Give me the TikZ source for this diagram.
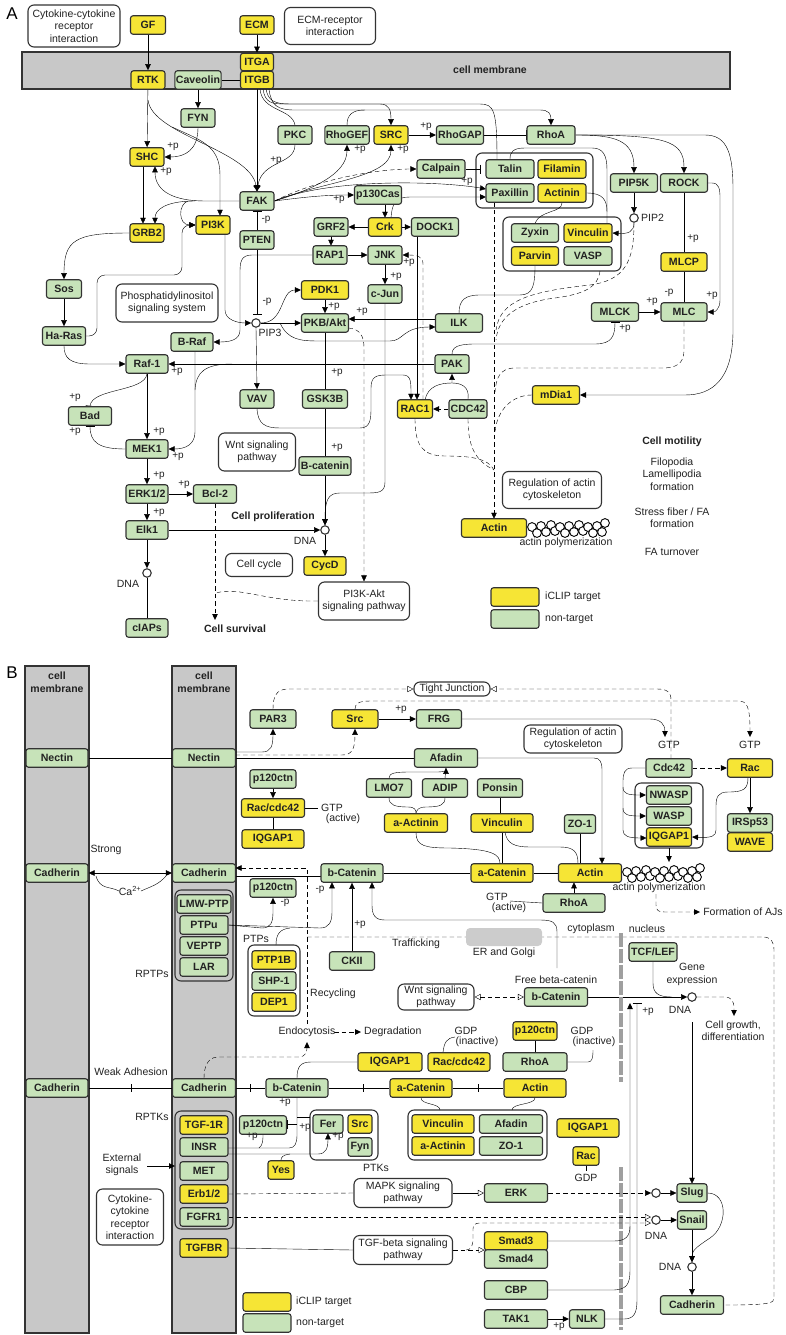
\documentclass[tikz,border=0pt]{standalone}
\usepackage{fontspec}
\setmainfont{Liberation Sans}
\usetikzlibrary{arrows.meta}
\pgfdeclarelayer{bg}
\pgfdeclarelayer{conn}
\pgfsetlayers{bg,conn,main}
\definecolor{yel}{HTML}{F6E535}
\definecolor{grn}{HTML}{C7E3B9}
\definecolor{mem}{HTML}{C8C8C8}
\definecolor{bord}{HTML}{333333}
\definecolor{txt}{HTML}{222222}
\newcommand\gn[5]{\node[#1,minimum width=#2pt] (#3) at (#4) {#5};}
\begin{document}
\begin{tikzpicture}[x=1pt,y=-1pt,line width=1.5pt,
  gene/.style={rounded corners=2.5pt, draw=bord, line width=1.1pt, minimum height=18.5pt, inner sep=1pt, font=\bfseries\fontsize{10.6}{12}\selectfont, text=txt},
  ye/.style={gene, fill=yel},
  gr/.style={gene, fill=grn},
  pw/.style={rounded corners=6pt, draw=bord, line width=1.1pt, fill=white, align=center, inner sep=1pt, font=\fontsize{10.5}{12.5}\selectfont, text=txt},
  grp/.style={rounded corners=6pt, draw=bord, line width=1.1pt},
  lb/.style={font=\fontsize{10.5}{12.5}\selectfont, inner sep=0pt, align=center, text=txt},
  pl/.style={font=\fontsize{10}{11}\selectfont, inner sep=0pt, text=txt},
  bl/.style={font=\bfseries\fontsize{10.5}{12.5}\selectfont, inner sep=0pt, align=center, text=txt},
  cir/.style={circle, draw=bord, fill=white, line width=1.1pt, minimum size=8.5pt, inner sep=0pt},
  ar/.style={-{Triangle[length=6pt,width=5.5pt]}},
  inh/.style={-{Bar[width=9pt]}},
  oar/.style={-{Triangle[open,length=6pt,width=6pt]}},
  dsh/.style={dash pattern=on 4.5pt off 3pt}
]
\useasboundingbox (0,0) rectangle (785,1335);

% ================= background =================
\begin{pgfonlayer}{bg}
\filldraw[fill=mem,draw=bord,line width=1.2pt] (22,52) rectangle (730,89);
\draw[grp] (476,153) rectangle (593,208);
\draw[grp] (503,217) rectangle (621,271);
\filldraw[fill=mem,draw=bord,line width=1.2pt] (25,666) rectangle (89,1333);
\filldraw[fill=mem,draw=bord,line width=1.2pt] (172,666) rectangle (236,1333);
\draw[grp] (175,890) rectangle (233,981);
\draw[grp] (248,945) rectangle (300,1016);
\draw[grp] (635,783) rectangle (703,848);
\draw[grp] (408,1110) rectangle (547,1160);
\draw[grp] (175,1111) rectangle (233,1229);
\draw[grp] (310,1110) rectangle (378,1160);
\foreach \i/\dx/\dy in {0/0/0,1/5/6,2/9/-1,3/14/5,4/19/-2,5/23/4,6/28/0,7/33/6,8/37/-1,9/42/5,10/47/-2,11/51/4,12/56/0,13/61/6,14/65/-1,15/70/5,16/73/-4} {
  \draw[fill=white,line width=0.9pt] ({532+\dx},{527+\dy}) circle (4.4pt);
  \draw[fill=white,line width=0.9pt] ({627+\dx},{872+\dy}) circle (4.4pt);
}
\end{pgfonlayer}

% ================= panel A nodes =================
\node[font=\fontsize{17}{17}\selectfont, inner sep=0pt] (lblA) at (12,14) {A};
\node[pw, minimum width=92pt, minimum height=42pt] (cytoA) at (74,26) {Cytokine-cytokine\\receptor\\interaction};
\node[pw, minimum width=91pt, minimum height=37pt] (ecmA) at (330,26) {ECM-receptor\\interaction};
\node[bl] (memA) at (490,70) {cell membrane};
\gn{ye}{35}{GF}{148,25}{GF}
\gn{ye}{34}{ECM}{257,25}{ECM}
\node[ye,minimum width=33pt,minimum height=17.5pt] (ITGA) at (257,62) {ITGA};
\node[ye,minimum width=33pt,minimum height=17.5pt] (ITGB) at (257,80) {ITGB};
\gn{ye}{34}{RTK}{148,80}{RTK}
\gn{gr}{46}{Cav}{198,80}{Caveolin}
\gn{gr}{34}{FYN}{198,118}{FYN}
\gn{gr}{34}{PKC}{295,135}{PKC}
\gn{gr}{44}{RhoGEF}{347,135}{RhoGEF}
\gn{ye}{34}{SRC}{391,135}{SRC}
\gn{gr}{47}{RhoGAP}{460,135}{RhoGAP}
\gn{gr}{48}{RhoA}{551,135}{RhoA}
\gn{ye}{34}{SHC}{147,157}{SHC}
\gn{gr}{48}{Calpain}{441,169}{Calpain}
\gn{gr}{48}{Talin}{510,169}{Talin}
\gn{ye}{48}{Filamin}{562,169}{Filamin}
\gn{gr}{34}{FAK}{257,201}{FAK}
\gn{gr}{47}{p130Cas}{378,195}{p130Cas}
\gn{gr}{48}{Paxillin}{510,193}{Paxillin}
\gn{ye}{48}{Actinin}{562,193}{Actinin}
\gn{gr}{47}{PIP5K}{634,183}{PIP5K}
\gn{gr}{47}{ROCK}{684,183}{ROCK}
\gn{ye}{34}{GRB2}{147,233}{GRB2}
\gn{ye}{34}{PI3K}{213,225}{PI3K}
\gn{gr}{34}{PTEN}{257,240}{PTEN}
\gn{gr}{34}{GRF2}{331,227}{GRF2}
\gn{ye}{33}{Crk}{385,227}{Crk}
\gn{gr}{47}{DOCK1}{435,227}{DOCK1}
\gn{gr}{47}{Zyxin}{535,233}{Zyxin}
\gn{ye}{48}{Vinculin}{588,233}{Vinculin}
\gn{ye}{47}{Parvin}{535,256}{Parvin}
\gn{gr}{48}{VASP}{588,256}{VASP}
\gn{gr}{34}{RAP1}{330,255}{RAP1}
\gn{gr}{34}{JNK}{385,255}{JNK}
\gn{ye}{46}{MLCP}{684,262}{MLCP}
\gn{gr}{35}{Sos}{64,289}{Sos}
\gn{ye}{47}{PDK1}{325,290}{PDK1}
\gn{gr}{34}{cJun}{385,294}{c-Jun}
\gn{gr}{47}{MLCK}{615,312}{MLCK}
\gn{gr}{46}{MLC}{684,312}{MLC}
\gn{gr}{47}{PKB}{325,323}{PKB/Akt}
\gn{gr}{47}{ILK}{459,323}{ILK}
\gn{gr}{43}{HaRas}{64,336}{Ha-Ras}
\gn{gr}{42}{BRaf}{192,342}{B-Raf}
\gn{gr}{42}{Raf1}{147,364}{Raf-1}
\gn{gr}{34}{PAK}{452,364}{PAK}
\gn{ye}{47}{mDia1}{556,395}{mDia1}
\gn{gr}{34}{VAV}{257,399}{VAV}
\gn{gr}{45}{GSK3B}{325,399}{GSK3B}
\gn{ye}{35}{RAC1}{415,409}{RAC1}
\gn{gr}{38}{CDC42}{468,409}{CDC42}
\gn{gr}{43}{Bad}{90,416}{Bad}
\gn{gr}{42}{MEK1}{147,449}{MEK1}
\gn{gr}{52}{Bcat}{325,466}{B-catenin}
\gn{gr}{42}{ERK}{147,494}{ERK1/2}
\gn{gr}{43}{Bcl2}{215,494}{Bcl-2}
\gn{gr}{42}{Elk1}{147,530}{Elk1}
\gn{ye}{42}{CycD}{325,566}{CycD}
\gn{gr}{42}{cIAPs}{147,628}{cIAPs}
\gn{ye}{65}{ActA}{494,528}{Actin}
\node[cir] (PIP2) at (634,218) {};
\node[cir] (PIP3) at (256,323) {};
\node[cir] (DNA1) at (325,530) {};
\node[cir] (DNA2) at (147,573) {};
\node[pw, minimum width=102pt, minimum height=38pt] (phos) at (167,303) {Phosphatidylinositol\\signaling system};
\node[pw, minimum width=77pt, minimum height=38pt] (wntA) at (257,452) {Wnt signaling\\pathway};
\node[pw, minimum width=67pt, minimum height=23pt] (ccyc) at (259,565) {Cell cycle};
\node[pw, minimum width=91pt, minimum height=38pt] (pi3k) at (364,601) {PI3K-Akt\\signaling pathway};
\node[pw, minimum width=99pt, minimum height=37pt] (regA) at (552,490) {Regulation of actin\\cytoskeleton};
\node[lb, anchor=west] (tPIP2) at (641,218) {PIP2};
\node[lb] (tPIP3) at (270,333) {PIP3};
\node[lb] (tDNA1) at (305,541) {DNA};
\node[lb] (tDNA2) at (128,584) {DNA};
\node[bl] (tprol) at (273,517) {Cell proliferation};
\node[bl] (tsurv) at (235,629) {Cell survival};
\node[lb] (tpolA) at (566,543) {actin polymerization};
\node[bl] (tmot) at (672,442) {Cell motility};
\node[lb] (tfilo) at (672,474) {Filopodia\\Lamellipodia\\formation};
\node[lb] (tstr) at (672,517.5) {Stress fiber / FA\\formation};
\node[lb] (tfat) at (672,552) {FA turnover};
\gn{ye}{48}{legAy}{515,597}{}
\gn{gr}{48}{legAg}{515,619}{}
\node[lb, anchor=west] (tlegAy) at (545,597) {iCLIP target};
\node[lb, anchor=west] (tlegAg) at (545,619) {non-target};
\foreach \x/\y/\t [count=\k] in {173/147/+p, 166/172/+p, 276/161/+p, 360/150/+p, 403/150/+p, 339/200/+p, 467/182/+p, 426/127/+p, 409/263/+p, 396/277/+p, 334/307/+p, 362/312/+p, 266/220/-p, 267/302/-p, 693/239/+p, 669/293/-p, 652/302/+p, 712/296/+p, 625/329/+p, 177/372/+p, 75/398/+p, 75/432/+p, 159/432/+p, 178/457/+p, 159/476/+p, 184/485/+p, 159/513/+p, 337/373/+p, 337/448/+p}
  {\node[pl] (pa\k) at (\x,\y) {\t};}

% ================= panel A connectors =================
\begin{pgfonlayer}{conn}
\draw[ar] (GF) -- (RTK);
\draw[ar] (ECM) -- (ITGA);
\draw (Cav) -- (ITGB);
\draw[ar] (Cav) -- (FYN);
\draw[ar] (RTK) -- (SHC);
\draw[ar] (148,100) .. controls (152,135) and (250,150) .. (FAK.north);
\draw[ar] (172,127) .. controls (200,140) and (220,145) .. (220,175) -- (220,215.75);
\draw[ar] (ITGB) -- (FAK);
\draw (260,89) .. controls (262,112) and (292,108) .. (PKC.north);
\draw[ar] (PKC.south) .. controls (295,165) and (262,160) .. (FAK.north);
\draw[ar] (263,89) .. controls (265,103) and (272,104) .. (285,104) -- (380,104) .. controls (389,104) and (391,110) .. (SRC.north);
\draw (266,89) .. controls (268,101) and (275,104) .. (290,104) -- (480,104) .. controls (494,104) and (497,110) .. (497,159.75);
\draw[ar] (269,89) .. controls (271,106) and (278,110) .. (295,110) -- (540,110) .. controls (549,110) and (551,114) .. (RhoA.north);
\draw (RhoGEF.north) .. controls (347,115) and (352,110) .. (365,110);
\draw[ar] (FAK.east) .. controls (310,190) and (347,175) .. (RhoGEF.south);
\draw[ar] (FAK.east) .. controls (320,182) and (391,178) .. (SRC.south);
\draw[ar,dsh] (FAK.east) .. controls (320,178) and (380,169) .. (Calpain.west);
\draw[ar] (FAK.east) .. controls (330,178) and (440,181) .. (486,189);
\draw[ar] (FAK.east) .. controls (305,197) and (325,195) .. (p130Cas.west);
\draw[ar] (FAK.west) -- (205,201) .. controls (175,201) and (155,192) .. (155,166.25);
\draw[ar] (195,201) .. controls (165,201) and (155,210) .. (155,223.75);
\draw[ar] (188,201) .. controls (178,204) and (178,225) .. (PI3K.west);
\draw[ar] (143,166.25) -- (143,223.75);
\draw[ar] (FYN.south) .. controls (198,150) and (185,157) .. (SHC.east);
\draw[ar] (GRB2.west) .. controls (75,233) and (64,240) .. (Sos.north);
\draw[ar] (Sos) -- (HaRas);
\draw[ar,rounded corners=8pt] (HaRas.east) -- (97,336) -- (97,275) -- (182,275) -- (182,225) -- (PI3K.west);
\draw[inh] (PTEN) -- (FAK);
\draw[inh] (PTEN.south) -- (257,314);
\draw[ar] (225,234.25) -- (225,310) .. controls (225,320) and (238,323) .. (PIP3.west);
\draw[ar] (PIP3.east) .. controls (285,323) and (280,290) .. (PDK1.west);
\draw[ar] (PIP3.east) -- (PKB.west);
\draw[ar] (PIP3.south) -- (VAV.north);
\draw[ar] (280,323) .. controls (288,340) and (300,341) .. (320,341) -- (390,341) .. controls (404,341) and (402,327) .. (435.5,327);
\draw[ar] (PDK1) -- (PKB);
\draw[ar] (435.5,319) -- (348.5,319);
\draw[inh] (PKB) -- (GSK3B);
\draw[inh] (GSK3B) -- (Bcat);
\draw[ar] (Bcat) -- (DNA1);
\draw[ar] (DNA1) -- (CycD);
\draw[ar] (Elk1) -- (DNA1);
\draw[ar] (cJun.south) -- (385,482) .. controls (385,493) and (378,493) .. (365,493) -- (340,493) .. controls (328,493) and (325,500) .. (DNA1.north);
\draw[ar,dsh] (348.5,328) .. controls (360,329) and (364,336) .. (364,348) -- (pi3k.north);
\draw[dsh] (pi3k.west) .. controls (265,602) and (240,586) .. (216,593);
\draw[ar,dsh] (Bcl2.south) -- (215,620);
\draw[ar] (HaRas.south) .. controls (64,358) and (70,364) .. (90,364) -- (Raf1.west);
\draw[ar] (PAK.west) -- (Raf1.east);
\draw[ar] (195,351.25) -- (195,432) .. controls (195,444) and (186,449) .. (MEK1.east);
\draw (232,364) .. controls (205,364) and (196,372) .. (195,390);
\draw[ar] (RAP1.west) -- (252,255) .. controls (241,255) and (240,262) .. (240,272) -- (240,330) .. controls (240,340) and (230,342) .. (BRaf.east);
\draw[ar] (Raf1) -- (MEK1);
\draw[inh] (Raf1.south) .. controls (145,392) and (92,388) .. (Bad.north);
\draw[inh] (MEK1.west) .. controls (98,449) and (90,442) .. (Bad.south);
\draw[ar] (MEK1) -- (ERK);
\draw[ar] (ERK) -- (Bcl2);
\draw[ar] (ERK) -- (Elk1);
\draw[ar] (Elk1) -- (DNA2);
\draw (DNA2) -- (cIAPs);
\draw[ar] (SRC) -- (RhoGAP);
\draw[inh] (RhoGAP) -- (RhoA);
\draw[inh] (Calpain) -- (480,169);
\draw[ar] (385,204.25) -- (385,217.75);
\draw[ar] (Crk) -- (GRF2);
\draw[ar] (Crk) -- (DOCK1);
\draw[ar] (391,217.75) .. controls (392,203) and (396,197) .. (410,197) -- (486,197);
\draw[ar] (331,236.25) -- (331,245.75);
\draw[ar] (RAP1) -- (JNK);
\draw[ar] (JNK) -- (cJun);
\draw[ar] (417,236.25) -- (417,399.75);
\draw[ar,dsh] (423,399.75) -- (423,264) .. controls (423,257) and (418,255) .. (JNK.east);
\draw[ar] (VAV.south) .. controls (258,424) and (265,428) .. (280,428) -- (360,428) .. controls (370,428) and (371,420) .. (371,408) -- (371,388) .. controls (371,377) and (376,375) .. (386,375) -- (403,375) .. controls (411,375) and (411,382) .. (411,399.75);
\draw[ar,dsh] (CDC42) -- (RAC1);
\draw[ar] (425,399.75) .. controls (428,386) and (440,383) .. (452,383) -- (PAK.south);
\draw (CDC42.north) .. controls (470,386) and (460,383) .. (452,383);
\draw[inh] (PAK.north) .. controls (452,347) and (458,344) .. (475,344) -- (595,344) .. controls (612,344) and (615,336) .. (MLCK.south);
\draw[ar] (MLCK) -- (MLC);
\draw[inh] (ROCK) -- (MLCP);
\draw[inh] (MLCP) -- (MLC);
\draw[ar] (ROCK.east) -- (712,183) .. controls (719,183) and (720,189) .. (720,198) -- (720,300) .. controls (720,309) and (715,312) .. (MLC.east);
\draw[ar] (RhoA.east) .. controls (615,135) and (634,140) .. (PIP5K.north);
\draw[ar] (RhoA.east) .. controls (665,135) and (684,140) .. (ROCK.north);
\draw[ar] (RhoA.east) -- (705,135) .. controls (728,135) and (733,155) .. (733,190) -- (733,330) .. controls (733,380) and (712,395) .. (685,395) -- (mDia1.east);
\draw[ar] (PIP5K) -- (PIP2);
\draw[ar] (PIP2.south) .. controls (634,232) and (628,234) .. (Vinculin.east);
\draw (Actinin.south) .. controls (562,213) and (540,210) .. (Zyxin.north);
\draw (Actinin.east) .. controls (603,193) and (607,200) .. (607,212) -- (607,223.75);
\draw (Talin.north) .. controls (510,152) and (513,148) .. (525,148) -- (592,148) .. controls (603,148) and (607,155) .. (607,170) -- (607,212);
\draw (ILK.north) .. controls (459,300) and (465,295) .. (480,295) -- (520,295) .. controls (533,295) and (535,285) .. (Parvin.south);
\draw[ar,dsh] (494,202.25) -- (494,518.75);
\draw[dsh] (600,271) .. controls (598,287) and (585,294) .. (555,298) .. controls (515,303) and (498,318) .. (496,340);
\draw[dsh] (PIP2.south) .. controls (634,262) and (625,280) .. (590,285) .. controls (525,292) and (500,302) .. (496,330);
\draw[dsh] (MLC.south) -- (684,350) .. controls (684,364) and (676,368) .. (662,368) -- (515,368) .. controls (500,368) and (496,378) .. (495,392);
\draw[dsh] (mDia1.west) .. controls (512,395) and (497,410) .. (495,432);
\draw[dsh] (RAC1.south) .. controls (415,445) and (422,456) .. (445,456) .. controls (470,456) and (488,458) .. (494,470);
\draw[dsh] (CDC42.south) .. controls (468,445) and (474,460) .. (494,470);
\end{pgfonlayer}

% ================= panel B nodes =================
\node[font=\fontsize{17}{17}\selectfont, inner sep=0pt] (lblB) at (12,673) {B};
\node[bl] (memBL) at (57,682) {cell\\membrane};
\node[bl] (memBR) at (204,682) {cell\\membrane};
\gn{gr}{62}{NectinL}{57,758}{Nectin}
\gn{gr}{63}{NectinR}{204,758}{Nectin}
\gn{gr}{46}{PAR3}{273,719}{PAR3}
\gn{ye}{46}{SrcB}{355,719}{Src}
\gn{gr}{45}{FRG}{439,719}{FRG}
\gn{gr}{63}{Afadin}{446,758}{Afadin}
\gn{gr}{46}{Cdc42}{669,768}{Cdc42}
\gn{ye}{45}{Rac}{750,768}{Rac}
\gn{gr}{46}{p120a}{273,779}{p120ctn}
\gn{gr}{45}{LMO7}{389,788}{LMO7}
\gn{gr}{45}{ADIP}{445,788}{ADIP}
\gn{gr}{45}{Ponsin}{500,788}{Ponsin}
\gn{gr}{45}{NWASP}{669,795}{NWASP}
\gn{ye}{63}{Racc}{273,808}{Rac/cdc42}
\gn{gr}{45}{WASP}{669,816}{WASP}
\gn{ye}{63}{aActB}{416,823}{a-Actinin}
\gn{ye}{62}{VinB}{502,823}{Vinculin}
\gn{gr}{31}{ZO1}{580,824}{ZO-1}
\gn{gr}{45}{IRSp53}{750,823}{IRSp53}
\gn{ye}{45}{WAVE}{750,842}{WAVE}
\gn{ye}{62}{IQa}{273,839}{IQGAP1}
\gn{ye}{45}{IQb}{669,837}{IQGAP1}
\gn{gr}{62}{CadL}{57,873}{Cadherin}
\gn{gr}{63}{CadR}{204,873}{Cadherin}
\gn{gr}{62}{bCat1}{352,873}{b-Catenin}
\gn{ye}{62}{aCat1}{502,873}{a-Catenin}
\gn{ye}{63}{Actin1}{590,873}{Actin}
\gn{gr}{46}{p120b}{273,888}{p120ctn}
\gn{gr}{62}{RhoAB}{574,903}{RhoA}
\gn{gr}{54}{LMW}{204,904}{LMW-PTP}
\gn{gr}{48}{PTPu}{204,925}{PTPu}
\gn{gr}{48}{VEPTP}{204,946}{VEPTP}
\gn{gr}{48}{LAR}{204,967}{LAR}
\gn{gr}{48}{TCF}{653,952}{TCF/LEF}
\gn{ye}{44}{PTP1B}{274,960}{PTP1B}
\gn{gr}{45}{CKII}{352,961}{CKII}
\gn{gr}{44}{SHP1}{274,981}{SHP-1}
\gn{gr}{63}{bCatF}{556,997}{b-Catenin}
\gn{ye}{44}{DEP1}{274,1002}{DEP1}
\gn{ye}{44}{p120y}{535,1031}{p120ctn}
\gn{ye}{64}{IQc}{390,1062}{IQGAP1}
\gn{ye}{62}{Raccm}{459,1062}{Rac/cdc42}
\gn{gr}{64}{RhoAm}{535,1062}{RhoA}
\gn{gr}{62}{CadL2}{57,1088}{Cadherin}
\gn{gr}{63}{CadR2}{204,1088}{Cadherin}
\gn{gr}{62}{bCat2}{297,1088}{b-Catenin}
\gn{ye}{62}{aCat2}{421,1088}{a-Catenin}
\gn{ye}{62}{Actin2}{535,1088}{Actin}
\gn{ye}{62}{Vin2}{443,1124}{Vinculin}
\gn{gr}{63}{Afad2}{511,1124}{Afadin}
\gn{ye}{62}{aAct2}{443,1146}{a-Actinin}
\gn{gr}{63}{ZO12}{511,1146}{ZO-1}
\gn{ye}{62}{IQd}{588,1128}{IQGAP1}
\gn{ye}{26}{RacL}{586,1156}{Rac}
\gn{ye}{48}{TGF1R}{204,1125}{TGF-1R}
\gn{gr}{48}{INSR}{204,1147}{INSR}
\gn{gr}{48}{MET}{204,1171}{MET}
\gn{ye}{48}{Erb}{204,1194}{Erb1/2}
\gn{gr}{48}{FGFR1}{204,1217}{FGFR1}
\gn{ye}{48}{TGFBR}{204,1248}{TGFBR}
\gn{gr}{47}{p120c}{263,1125}{p120ctn}
\gn{gr}{30}{Fer}{328,1124}{Fer}
\gn{ye}{24}{SrcP}{360,1124}{Src}
\gn{gr}{24}{Fyn}{360,1147}{Fyn}
\gn{ye}{26}{Yes}{281,1170}{Yes}
\gn{gr}{63}{ERKB}{516,1193}{ERK}
\gn{ye}{63}{Smad3}{516,1241}{Smad3}
\gn{gr}{63}{Smad4}{516,1259}{Smad4}
\gn{gr}{63}{CBP}{516,1290}{CBP}
\gn{gr}{63}{TAK1}{516,1319}{TAK1}
\gn{gr}{35}{NLK}{587,1319}{NLK}
\gn{gr}{30}{Slug}{692,1193}{Slug}
\gn{gr}{29}{Snail}{692,1220}{Snail}
\gn{gr}{63}{CadN}{692,1305}{Cadherin}
\gn{ye}{48}{legBy}{267,1302}{}
\gn{gr}{48}{legBg}{267,1323}{}
\node[lb, anchor=west] (tlegBy) at (296,1302) {iCLIP target};
\node[lb, anchor=west] (tlegBg) at (296,1323) {non-target};
\node[cir] (DNAg) at (692,997) {};
\node[cir] (c1) at (656,1193) {};
\node[cir] (c2) at (656,1220) {};
\node[cir] (c3) at (692,1267) {};
\node[pw, minimum width=76pt, minimum height=14pt, inner sep=0.5pt] (TJ) at (452,689) {Tight Junction};
\node[pw, minimum width=98pt, minimum height=28pt] (regB) at (573,739) {Regulation of actin\\cytoskeleton};
\node[pw, minimum width=76pt, minimum height=26pt] (wntB) at (436,997) {Wnt signaling\\pathway};
\node[pw, minimum width=98pt, minimum height=29pt] (mapk) at (403,1193) {MAPK signaling\\pathway};
\node[pw, minimum width=99pt, minimum height=29pt] (tgfb) at (403,1250) {TGF-beta signaling\\pathway};
\node[pw, minimum width=67pt, minimum height=56pt] (cytoB) at (130,1217) {Cytokine-\\cytokine\\receptor\\interaction};
\fill[gray!40, rounded corners=4pt] (466,928) rectangle (542,946);
\node[lb] (tstrong) at (106,850) {Strong};
\node[lb] (tweak) at (131,1072) {Weak Adhesion};
\node[lb] (tca) at (130,891) {Ca\textsuperscript{2+}};
\node[lb] (trptp) at (152,974) {RPTPs};
\node[lb] (tptp) at (256,939) {PTPs};
\node[lb] (trec) at (333,994) {Recycling};
\node[lb] (ttraf) at (416,944) {Trafficking};
\node[lb] (ter) at (504,953) {ER and Golgi};
\node[lb] (tfree) at (556,980) {Free beta-catenin};
\node[lb] (tcyt) at (591,929) {cytoplasm};
\node[lb] (tnuc) at (647,929) {nucleus};
\node[lb] (tgene) at (692,974.5) {Gene\\expression};
\node[lb] (tdnag) at (680,1010) {DNA};
\node[lb] (tgrow) at (733,1030.5) {Cell growth,\\differentiation};
\node[lb] (trptk) at (152,1117) {RPTKs};
\node[lb] (tptk) at (376,1168) {PTKs};
\node[lb] (text) at (122,1165) {External\\signals};
\node[lb] (tgdpl) at (586,1178) {GDP};
\node[lb] (tdnac2) at (656,1236) {DNA};
\node[lb] (tdnac3) at (670,1267) {DNA};
\node[lb] (tpolB) at (659,888) {actin polymerization};
\node[lb] (tgtpr) at (497,897) {GTP};
\node[lb] (tactr) at (509,908) {(active)};
\node[lb] (tgtpa) at (332,808) {GTP};
\node[lb] (tacta) at (343,819) {(active)};
\node[lb] (tgtpc) at (669,745) {GTP};
\node[lb] (tgtpd) at (750,745) {GTP};
\node[lb] (tgdpa) at (466,1031) {GDP};
\node[lb] (tinaa) at (477,1042) {(inactive)};
\node[lb] (tgdpb) at (582,1031) {GDP};
\node[lb] (tinab) at (594,1042) {(inactive)};
\node[lb] (tendo) at (307,1032) {Endocytosis};
\node[lb, anchor=west] (tdeg) at (364,1032) {Degradation};
\node[lb] (tformAJ) at (743,912) {Formation of AJs};
\foreach \x/\y/\t [count=\k] in {320/890/-p, 285/903/-p, 360/925/+p, 401/710/+p, 285/1103/+p, 252/1137/+p, 338/1137/+p, 305/1128/+p, 648/1012/+p, 559/1327/+p}
  {\node[pl] (pb\k) at (\x,\y) {\t};}

% ================= panel B connectors =================
\begin{pgfonlayer}{conn}
\draw (NectinL) -- (NectinR);
\draw (NectinR.east) -- (Afadin.west);
\draw[ar] (235.5,752) -- (262,752) .. controls (271,752) and (273,746) .. (PAR3.south);
\draw[ar,dsh] (235.5,755) -- (342,755) .. controls (352,755) and (355,749) .. (SrcB.south);
\draw[oar,dsh] (PAR3.north) .. controls (273,697) and (276,689) .. (288,689) -- (TJ.west);
\draw[ar,dsh] (SrcB.north) .. controls (355,704) and (358,701) .. (370,701) -- (738,701) .. controls (747,701) and (750,706) .. (750,737);
\draw[oar,dsh] (671,758.75) -- (671,700) .. controls (671,692) and (667,689) .. (657,689) -- (TJ.east);
\draw[ar] (SrcB) -- (FRG);
\draw[ar] (FRG.east) -- (650,719) .. controls (661,719) and (665,725) .. (665,737);
\draw[ar,dsh] (Cdc42) -- (Rac);
\draw[ar] (Cdc42.west) -- (632,768) .. controls (624,768) and (623,774) .. (623,782) -- (623,830) .. controls (623,836) and (628,838) .. (646.5,838);
\draw[ar] (623,787) .. controls (623,794) and (628,795) .. (NWASP.west);
\draw[ar] (623,808) .. controls (623,815) and (628,816) .. (WASP.west);
\draw[ar] (Rac) -- (IRSp53);
\draw[ar] (748,777.25) .. controls (748,789) and (744,792) .. (728,792) .. controls (718,792) and (716,797) .. (716,806) -- (716,830) .. controls (716,836) and (712,838) .. (IQb.east);
\draw[ar] (669,848) -- (669,862);
\draw[ar] (Afadin.east) -- (594,758) .. controls (600,758) and (602,762) .. (602,770) -- (602,863.75);
\draw[ar] (LMO7.north) .. controls (389,773) and (395,772) .. (410,772) -- (437,772) .. controls (444,772) and (446,770) .. (Afadin.south);
\draw (ADIP.north) -- (Afadin.south);
\draw (LMO7.south) .. controls (389,805) and (395,807) .. (408,807) .. controls (415,807) and (416,810) .. (aActB.north);
\draw (ADIP.south) .. controls (445,805) and (440,807) .. (426,807) .. controls (418,807) and (417,810) .. (aActB.north);
\draw (Ponsin.south) -- (500,813.75);
\draw (aActB.south) .. controls (416,846) and (425,848) .. (450,848) .. controls (492,849) and (500,854) .. (500,863.75);
\draw (502,832.25) -- (502,863.75);
\draw (505,832.25) .. controls (507,844) and (515,847) .. (530,847) -- (560,847) .. controls (574,847) and (578,852) .. (578,863.75);
\draw (ZO1) -- (580,863.75);
\draw (bCat1) -- (aCat1);
\draw (aCat1) -- (Actin1);
\draw (235.5,876) -- (321,876);
\draw[ar,dsh] (307,1024) -- (307,868) -- (235.5,868);
\draw[dsh] (307,937) -- (763,937) .. controls (771,937) and (774,942) .. (774,950) -- (774,1298) .. controls (774,1303) and (771,1305) .. (CadN.east);
\draw[{Triangle[length=6pt,width=5.5pt]}-{Triangle[length=6pt,width=5.5pt]}] (CadL.east) -- (CadR.west);
\draw (96,876) .. controls (100,890) and (110,886) .. (119,891);
\draw (141,891) .. controls (152,886) and (158,885) .. (166,876);
\draw[ar] (574,893.75) -- (574,882.25);
\draw (RhoAB.west) -- (510,901);
\draw[ar,dsh] (656,894) -- (656,905) .. controls (656,911) and (659,912) .. (665,912) -- (700,912);
\draw[ar] (p120a) -- (Racc);
\draw[inh] (Racc) -- (IQa);
\draw (Racc.east) -- (318,808);
\draw[ar] (PTPu.east) -- (262,928) .. controls (271,928) and (273,922) .. (273,912) -- (p120b.south);
\draw[ar] (PTPu.east) -- (320,928) .. controls (329,928) and (332,922) .. (332,912) -- (332,882.25);
\draw (276,945) .. controls (276,934) and (280,929) .. (290,928);
\draw[ar] (CKII) -- (bCat1);
\draw[ar] (557,968) -- (557,932) .. controls (557,922) and (552,920) .. (540,920) -- (385,920) .. controls (375,920) and (372,915) .. (372,905) -- (372,882.25);
\draw[{Triangle[open,length=6pt,width=6pt]}-{Triangle[open,length=6pt,width=6pt]},dsh] (wntB.east) -- (bCatF.west);
\draw[ar] (bCatF) -- (DNAg);
\draw (TCF.south) -- (653,983) .. controls (653,993) and (658,997) .. (672,997);
\draw[ar,dsh] (DNAg.east) -- (724,997) .. controls (732,997) and (734,1001) .. (734,1009) -- (734,1016);
\draw[ar] (692,1022) -- (692,1183.75);
\draw[line width=4pt, draw=gray!75, dash pattern=on 14pt off 2pt] (621,933) -- (621,1082);
\draw[line width=4pt, draw=gray!75, dash pattern=on 14pt off 2pt] (621,1167) -- (621,1330);
\draw (Smad3.east) -- (614,1241) .. controls (626,1241) and (630,1236) .. (630,1226);
\draw[ar] (CBP.east) -- (612,1290) .. controls (627,1290) and (630,1284) .. (630,1270) -- (630,1003);
\draw[inh] (NLK.east) -- (624,1319) .. controls (634,1319) and (637,1313) .. (637,1300) -- (637,1003);
\draw[ar] (TAK1) -- (NLK);
\draw[ar,dsh] (ERKB) -- (c1);
\draw[ar] (c1) -- (Slug);
\draw[oar] (mapk.east) -- (ERKB.west);
\draw[dsh] (Erb.east) -- (mapk.west);
\draw[oar,dsh] (FGFR1.east) -- (651,1217);
\draw (TGFBR.east) -- (tgfb.west);
\draw[oar,dsh] (tgfb.east) -- (484.5,1250);
\draw[oar,dsh] (466,1250) .. controls (471,1250) and (473,1246) .. (473,1238) -- (473,1229) .. controls (473,1225) and (475,1223) .. (480,1223) -- (651,1223);
\draw[ar] (c2) -- (Snail);
\draw[ar] (Slug.east) .. controls (728,1193) and (728,1226) .. (710,1238) .. controls (698,1246) and (692,1250) .. (692,1262);
\draw[ar] (Snail) -- (c3);
\draw[ar] (c3) -- (CadN);
\draw (CadL2) -- (CadR2);
\draw (CadR2) -- (bCat2);
\draw (bCat2) -- (aCat2);
\draw (aCat2) -- (Actin2);
\foreach \x in {131,250,363,478} {\draw (\x,1084) -- (\x,1092);}
\draw[inh] (IQc.west) -- (311,1062) .. controls (300,1062) and (297,1067) .. (297,1078.75);
\draw (443,1052.75) .. controls (444,1042) and (447,1038) .. (455,1037);
\draw[inh] (p120y) -- (RhoAm);
\draw (RhoAm.east) -- (588,1062) .. controls (592,1062) and (593,1058) .. (593,1050);
\draw (aCat2.south) .. controls (421,1105) and (440,1103) .. (440,1110);
\draw (Actin2.south) .. controls (535,1105) and (512,1103) .. (512,1110);
\draw (RacL.south) -- (586,1171);
\draw[ar] (147,1166) -- (175,1166);
\draw[inh] (228,1148) -- (289,1148) .. controls (295,1148) and (297,1143) .. (297,1135) -- (297,1097.25);
\draw[ar] (228,1154) -- (318,1154) .. controls (326,1154) and (328,1148) .. (328,1133.25);
\draw[inh] (259,1148) .. controls (263,1145) and (263,1140) .. (263,1134.25);
\draw[inh] (297,1124) -- (286.5,1124);
\draw (310,1117) -- (297,1117);
\draw (Yes.north) .. controls (281,1157) and (283,1155) .. (290,1154);
\draw[ar,dsh] (CadR2.north) .. controls (204,1068) and (207,1057) .. (218,1057) -- (299,1057) .. controls (305,1057) and (307,1052) .. (307,1042);
\draw[ar,dsh] (334,1032) -- (361,1032);
\end{pgfonlayer}
\end{tikzpicture}
\end{document}
